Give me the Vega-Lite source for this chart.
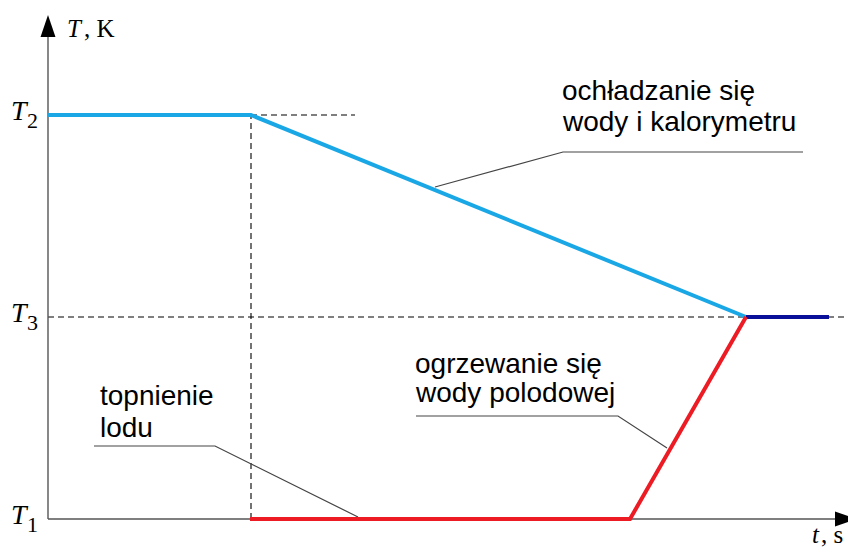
{
  "$schema": "https://vega.github.io/schema/vega-lite/v6.json",
  "width": 848,
  "height": 549,
  "autosize": {"type": "none"},
  "padding": 0,
  "background": "white",
  "config": {"view": {"stroke": null}},
  "datasets": {
    "curves": [
      {"s": "a", "k": 0, "t": 0, "T": 2},
      {"s": "a", "k": 1, "t": 203, "T": 2},
      {"s": "a", "k": 2, "t": 698, "T": 1},
      {"s": "b", "k": 0, "t": 698, "T": 1},
      {"s": "b", "k": 1, "t": 781, "T": 1},
      {"s": "c", "k": 0, "t": 202, "T": 0},
      {"s": "c", "k": 1, "t": 582, "T": 0},
      {"s": "c", "k": 2, "t": 698, "T": 1}
    ],
    "leaders": [
      {"id": "a", "k": 0, "t": 755, "T": 1.8168},
      {"id": "a", "k": 1, "t": 515, "T": 1.8168},
      {"id": "a", "k": 2, "t": 387, "T": 1.6436},
      {"id": "b", "k": 0, "t": 368, "T": 0.5099},
      {"id": "b", "k": 1, "t": 570, "T": 0.5099},
      {"id": "b", "k": 2, "t": 619, "T": 0.3515},
      {"id": "c", "k": 0, "t": 46, "T": 0.3614},
      {"id": "c", "k": 1, "t": 167, "T": 0.3614},
      {"id": "c", "k": 2, "t": 310, "T": 0.0099}
    ],
    "dashes": [
      {"t": 203, "t2": 307, "T": 2, "T2": 2},
      {"t": 203, "t2": 203, "T": 0, "T2": 2},
      {"t": 0, "t2": 800, "T": 1, "T2": 1}
    ],
    "axes": [
      {"t": 0, "t2": 0, "T": 0, "T2": 2.386},
      {"t": 0, "t2": 787, "T": 0, "T2": 0}
    ],
    "notes": [
      {"t": 514, "T": 2.0743, "text": "ochładzanie się"},
      {"t": 515, "T": 1.9208, "text": "wody i kalorymetru"},
      {"t": 367, "T": 0.7228, "text": "ogrzewanie się"},
      {"t": 368, "T": 0.5792, "text": "wody polodowej"},
      {"t": 52, "T": 0.5644, "text": "topnienie"},
      {"t": 52, "T": 0.4059, "text": "lodu"}
    ],
    "italics": [
      {"t": -37, "T": 1.9752, "text": "T", "size": "big"},
      {"t": -37, "T": 0.9752, "text": "T", "size": "big"},
      {"t": -37, "T": -0.0248, "text": "T", "size": "big"},
      {"t": 19, "T": 2.3861, "text": "T", "size": "small"},
      {"t": 764, "T": -0.1188, "text": "t", "size": "small"}
    ],
    "uprights": [
      {"t": -21, "T": 1.9356, "text": "2", "size": "sub"},
      {"t": -21, "T": 0.9356, "text": "3", "size": "sub"},
      {"t": -21, "T": -0.0644, "text": "1", "size": "sub"},
      {"t": 36, "T": 2.3861, "text": ", K", "size": "small"},
      {"t": 773, "T": -0.1188, "text": ", s", "size": "small"}
    ],
    "arrows": [
      {"dir": "up", "t": 0, "T": 2.4406},
      {"dir": "right", "t": 798, "T": 0}
    ]
  },
  "encoding": {
    "x": {"type": "quantitative", "scale": {"domain": [-48, 800], "nice": false, "zero": false}, "axis": null},
    "y": {"type": "quantitative", "scale": {"domain": [-0.1485, 2.5693], "nice": false, "zero": false}, "axis": null}
  },
  "layer": [
    {
      "data": {"name": "dashes"},
      "mark": {"type": "rule", "color": "#000000", "strokeWidth": 1.1, "strokeDash": [6, 4]},
      "encoding": {
        "x": {"field": "t", "type": "quantitative"},
        "x2": {"field": "t2"},
        "y": {"field": "T", "type": "quantitative"},
        "y2": {"field": "T2"}
      }
    },
    {
      "data": {"name": "axes"},
      "mark": {"type": "rule", "color": "#555555", "strokeWidth": 1.4},
      "encoding": {
        "x": {"field": "t", "type": "quantitative"},
        "x2": {"field": "t2"},
        "y": {"field": "T", "type": "quantitative"},
        "y2": {"field": "T2"}
      }
    },
    {
      "data": {"name": "arrows"},
      "mark": {"type": "point", "filled": true, "opacity": 1, "color": "black", "size": 484},
      "encoding": {
        "x": {"field": "t", "type": "quantitative"},
        "y": {"field": "T", "type": "quantitative"},
        "shape": {
          "field": "dir", "type": "nominal", "legend": null,
          "scale": {"domain": ["up", "right"], "range": ["M0,-1L0.68,1L-0.68,1Z", "M1,0L-1,0.68L-1,-0.68Z"]}
        }
      }
    },
    {
      "data": {"name": "leaders"},
      "mark": {"type": "line", "color": "#444444", "strokeWidth": 1.2},
      "encoding": {
        "x": {"field": "t", "type": "quantitative"},
        "y": {"field": "T", "type": "quantitative"},
        "detail": {"field": "id", "type": "nominal"},
        "order": {"field": "k", "type": "quantitative"}
      }
    },
    {
      "data": {"name": "curves"},
      "mark": {"type": "line", "strokeWidth": 4, "strokeJoin": "miter", "strokeCap": "butt"},
      "encoding": {
        "x": {"field": "t", "type": "quantitative"},
        "y": {"field": "T", "type": "quantitative"},
        "color": {
          "field": "s", "type": "nominal", "legend": null,
          "scale": {"domain": ["a", "b", "c"], "range": ["#1aa7e6", "#0a0f9a", "#ed1c24"]}
        },
        "order": {"field": "k", "type": "quantitative"}
      }
    },
    {
      "data": {"name": "notes"},
      "mark": {"type": "text", "align": "left", "baseline": "alphabetic", "font": "Liberation Sans", "fontSize": 28, "color": "black"},
      "encoding": {
        "x": {"field": "t", "type": "quantitative"},
        "y": {"field": "T", "type": "quantitative"},
        "text": {"field": "text"}
      }
    },
    {
      "data": {"name": "italics"},
      "mark": {"type": "text", "align": "left", "baseline": "alphabetic", "font": "Liberation Serif", "fontStyle": "italic", "color": "black"},
      "encoding": {
        "x": {"field": "t", "type": "quantitative"},
        "y": {"field": "T", "type": "quantitative"},
        "text": {"field": "text"},
        "size": {"field": "size", "type": "nominal", "legend": null, "scale": {"domain": ["big", "small", "sub"], "range": [28, 22, 16]}}
      }
    },
    {
      "data": {"name": "uprights"},
      "mark": {"type": "text", "align": "left", "baseline": "alphabetic", "font": "Liberation Serif", "color": "black"},
      "encoding": {
        "x": {"field": "t", "type": "quantitative"},
        "y": {"field": "T", "type": "quantitative"},
        "text": {"field": "text"},
        "size": {"field": "size", "type": "nominal", "legend": null, "scale": {"domain": ["big", "small", "sub"], "range": [28, 22, 16]}}
      }
    }
  ]
}
